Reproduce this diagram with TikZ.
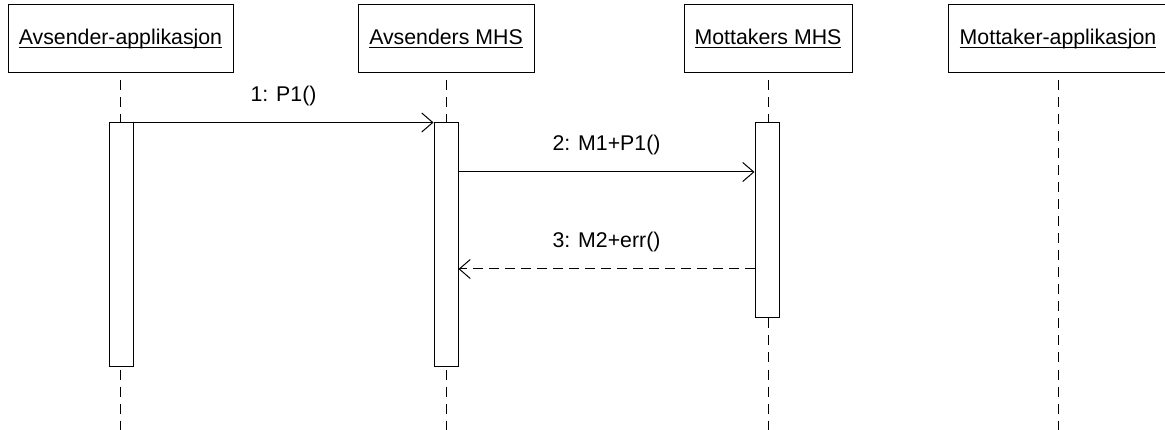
\documentclass[tikz,border=0pt]{standalone}
\usepackage{fontspec}
\setmainfont{Liberation Sans}
\usetikzlibrary{arrows.meta}
% underlined object name, rule sits just under the baseline
\newcommand{\objname}[1]{\setbox0\hbox{#1}\rlap{\rule[-3.5pt]{\wd0}{1pt}}\box0}
\begin{document}
\begin{tikzpicture}[x=1pt,y=-1pt,line width=1pt,
  font=\fontsize{21.3}{25}\selectfont,
  actor/.style={draw,fill=white,minimum height=68pt,inner sep=0pt},
  act/.style={draw,fill=white,minimum width=24pt,inner sep=0pt},
  lifeline/.style={dash pattern=on 10pt off 7pt,dash phase=10pt},
  msg/.style={-{Straight Barb[length=11pt,width=19pt]}},
  reply/.style={msg,dash pattern=on 10pt off 6pt},
  lbl/.style={anchor=base,yshift=21pt}]
\useasboundingbox (0,0) rectangle (1165,430);

% participants
\node[actor,minimum width=225pt] (s)  at (120.5,39) {\objname{Avsender-applikasjon}};
\node[actor,minimum width=176pt] (sm) at (446,39)   {\objname{Avsenders MHS}};
\node[actor,minimum width=168pt] (rm) at (768,39)   {\objname{Mottakers MHS}};
\node[actor,minimum width=220pt] (r)  at (1058,39)  {\objname{Mottaker-applikasjon}};

% lifelines
\draw[lifeline] (s.south)  -- (s.south |- 0,430);
\draw[lifeline] (sm.south) -- (sm.south |- 0,430);
\draw[lifeline] (rm.south) -- (rm.south |- 0,430);
\draw[lifeline] (r.south)  -- (r.south |- 0,430);

% activation bars
\node[act,minimum height=244pt] (a1) at (121,245)   {};
\node[act,minimum height=244pt] (a2) at (446,245)   {};
\node[act,minimum height=195pt] (a3) at (767,220.5) {};

% messages
\draw[msg] (a1.north east) -- node[lbl] {1: P1()} (a2.north west);
\draw[msg] (a2.east |- 0,172) -- node[lbl] {2: M1+P1()} (a3.west |- 0,172);
\draw[reply] (a3.west |- 0,269) -- node[lbl] {3: M2+err()} (a2.east |- 0,269);
\end{tikzpicture}
\end{document}
